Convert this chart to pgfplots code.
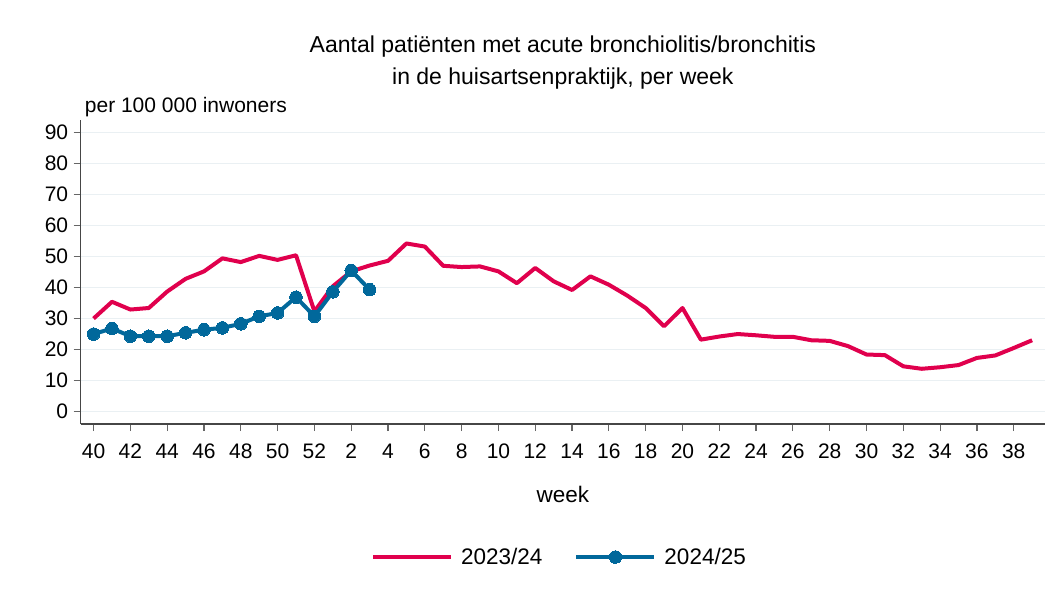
\documentclass[border=0pt]{standalone}
\usepackage{fontspec}
\setmainfont{Liberation Sans}
\usepackage{pgfplots}
\pgfplotsset{compat=1.18}
\definecolor{cred}{RGB}{224,0,77}
\definecolor{cblue}{RGB}{1,104,155}
\definecolor{cgrid}{RGB}{234,240,243}
\definecolor{caxis}{RGB}{70,70,70}
\begin{document}
\begin{tikzpicture}
\useasboundingbox (-80.7pt,-174pt) rectangle (974.3pt,424pt);
\begin{axis}[
  at={(0pt,0pt)}, anchor=south west,
  scale only axis,
  width=964.3pt, height=304pt,
  xmin=-0.7, xmax=51.7,
  ymin=-4, ymax=94,
  axis x line=bottom, axis y line=left,
  axis line style={-, caxis, line width=1.2pt},
  tick align=outside,
  major tick length=7pt,
  tick style={color=gray!80!black, line width=1.2pt},
  xtick={0,2,...,50},
  xticklabels={40,42,44,46,48,50,52,2,4,6,8,10,12,14,16,18,20,22,24,26,28,30,32,34,36,38},
  ytick={0,10,...,90},
  ymajorgrids, grid style={cgrid, line width=1.5pt},
  /pgf/number format/assume math mode=true,
  ticklabel style={font=\fontsize{21}{25}\selectfont, text=black},
  xticklabel style={text height=15pt, text depth=0pt, anchor=north, yshift=-9pt},
  yticklabel style={xshift=-2pt},
  xlabel={week},
  xlabel style={font=\fontsize{22.5}{26}\selectfont, at={(0.5,-70pt)}, anchor=center},
  title={Aantal patiënten met acute bronchiolitis/bronchitis\\in de huisartsenpraktijk, per week},
  title style={font=\fontsize{23}{32}\selectfont, align=center, at={(0.5,1)}, anchor=south, yshift=21pt},
  legend columns=2,
  legend style={at={(0.4965,-0.4375)}, anchor=center, draw=none, font=\fontsize{22.5}{26}\selectfont,
    /tikz/every odd column/.append style={column sep=6pt},
    /tikz/every even column/.append style={column sep=30pt}},
  legend image code/.code={\draw[mark repeat=2,mark phase=2,#1] plot coordinates {(0pt,0pt) (39pt,0pt) (78pt,0pt)};},
  clip=false,
]
\addplot[cred, line width=4pt, line join=round, no marks] coordinates {
(0,30.0)(1,35.4)(2,32.9)(3,33.4)(4,38.7)(5,42.8)(6,45.2)(7,49.4)(8,48.2)(9,50.2)
(10,48.9)(11,50.4)(12,32.3)(13,40.4)(14,45.2)(15,47.1)(16,48.6)(17,54.2)(18,53.2)(19,47.0)
(20,46.6)(21,46.8)(22,45.2)(23,41.4)(24,46.3)(25,42.0)(26,39.2)(27,43.6)(28,40.9)(29,37.4)
(30,33.4)(31,27.5)(32,33.4)(33,23.2)(34,24.2)(35,25.0)(36,24.6)(37,24.1)(38,24.1)(39,23.0)
(40,22.8)(41,21.1)(42,18.4)(43,18.2)(44,14.6)(45,13.8)(46,14.3)(47,15.0)(48,17.3)(49,18.1)
(50,20.5)(51,23.0)};
\addlegendentry{2023/24}
\addplot[cblue, line width=4pt, line join=round, mark=*, mark size=6.3pt, mark options={solid, fill=cblue, draw=cblue, line width=0pt}] coordinates {
(0,25.0)(1,26.8)(2,24.3)(3,24.3)(4,24.3)(5,25.4)(6,26.4)(7,27.0)(8,28.3)(9,30.7)
(10,31.8)(11,36.9)(12,30.7)(13,38.6)(14,45.5)(15,39.3)};
\addlegendentry{2024/25}
\node[anchor=base west, inner sep=0pt, font=\fontsize{21}{25}\selectfont] at (rel axis cs:0,1) [xshift=4pt, yshift=8pt] {per 100 000 inwoners};
\end{axis}
\end{tikzpicture}
\end{document}
